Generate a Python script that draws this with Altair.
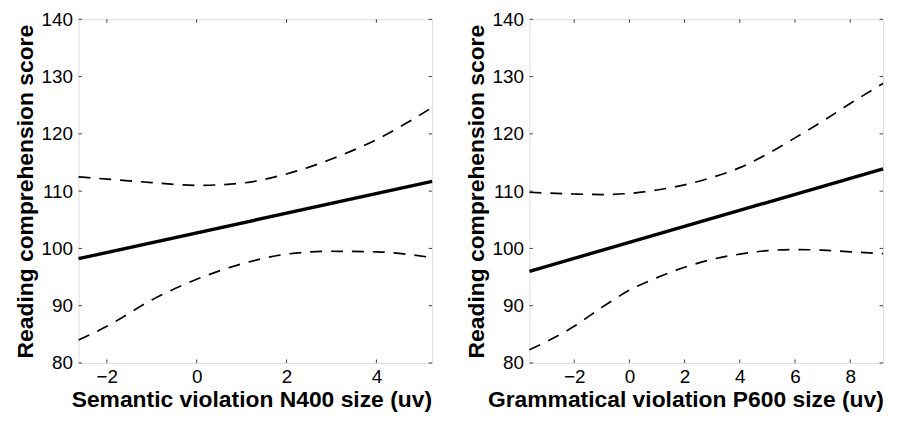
import altair as alt
import pandas as pd

# ---------------- data ----------------
Y_DOMAIN = [80, 140]
Y_TICKS = [80, 90, 100, 110, 120, 130, 140]

# Left panel: Semantic violation N400
left_x_domain = [-2.63, 5.24]
left_x_ticks = [-2, 0, 2, 4]
left_ci_x = [-2.63, -2, -1, 0, 1, 2, 3, 4, 5.24]
left_upper = [112.5, 112.1, 111.5, 111.0, 111.4, 113.0, 115.6, 119.0, 124.6]
left_lower = [84.0, 86.4, 91.0, 94.6, 97.3, 99.0, 99.5, 99.4, 98.4]
left_fit_x = [-2.63, 5.24]
left_fit_y = [98.2, 111.7]

# Right panel: Grammatical violation P600
right_x_domain = [-3.62, 9.19]
right_x_ticks = [-2, 0, 2, 4, 6, 8]
right_ci_x = [-3.62, -2, -1, 0, 1, 2, 3, 4, 5, 6, 7, 8, 9.19]
right_upper = [109.8, 109.5, 109.4, 109.6, 110.2, 111.1, 112.4, 114.1, 116.5, 119.3, 122.2, 125.3, 128.8]
right_lower = [82.3, 86.4, 89.7, 92.7, 94.9, 96.7, 98.1, 99.0, 99.6, 99.8, 99.7, 99.4, 99.1]
right_fit_x = [-3.62, 9.19]
right_fit_y = [96.0, 113.9]

Y_TITLE = "Reading comprehension score"
LEFT_X_TITLE = "Semantic violation N400 size (uv)"
RIGHT_X_TITLE = "Grammatical violation P600 size (uv)"

# ---------------- styling ----------------
W, H = 356, 346
FONT = "Liberation Sans"
FRAME = "#444444"
TICK_LEN = 3.5


def panel(ci_x, upper, lower, fit_x, fit_y, x_domain, x_ticks, x_title, title_x):
    n = len(ci_x)
    ci = pd.DataFrame({
        "x": list(ci_x) * 2,
        "y": list(upper) + list(lower),
        "band": ["upper"] * n + ["lower"] * n,
    })
    fit = pd.DataFrame({"x": fit_x, "y": fit_y})
    xt = pd.DataFrame({"t": x_ticks})
    yt = pd.DataFrame({"t": Y_TICKS})

    xs = alt.Scale(domain=x_domain, nice=False, zero=False)
    ys = alt.Scale(domain=Y_DOMAIN, nice=False, zero=False)
    x_axis = alt.Axis(values=x_ticks, title=x_title, format="d", tickSize=0,
                      domain=False, grid=False, labelFlush=False,
                      labelFontSize=19, labelColor="black", labelPadding=5,
                      titleFontSize=23, titleFontWeight="bold", titleColor="black",
                      titlePadding=2, titleX=title_x, titleAlign="center",
                      labelFont=FONT, titleFont=FONT)
    y_axis = alt.Axis(values=Y_TICKS, title=Y_TITLE, format="d", tickSize=0,
                      domain=False, grid=False, labelFlush=False,
                      labelFontSize=19, labelColor="black", labelPadding=6,
                      titleFontSize=23, titleFontWeight="bold", titleColor="black",
                      titlePadding=4, labelFont=FONT, titleFont=FONT)

    X = lambda f: alt.X(f, scale=xs, axis=x_axis)
    Y = lambda f: alt.Y(f, scale=ys, axis=y_axis)

    ci_lines = alt.Chart(ci).mark_line(
        color="black", strokeWidth=1.7, strokeDash=[12, 9], interpolate="monotone"
    ).encode(x=X("x:Q"), y=Y("y:Q"), detail="band:N")

    fit_line = alt.Chart(fit).mark_line(color="black", strokeWidth=3.4).encode(
        x=X("x:Q"), y=Y("y:Q"))

    tick_style = dict(color=FRAME, strokeWidth=1)
    bottom = alt.Chart(xt).mark_rule(**tick_style).encode(
        x=X("t:Q"), y=alt.value(H), y2=alt.value(H - TICK_LEN))
    top = alt.Chart(xt).mark_rule(**tick_style).encode(
        x=X("t:Q"), y=alt.value(0), y2=alt.value(TICK_LEN))
    left = alt.Chart(yt).mark_rule(**tick_style).encode(
        y=Y("t:Q"), x=alt.value(0), x2=alt.value(TICK_LEN))
    right = alt.Chart(yt).mark_rule(**tick_style).encode(
        y=Y("t:Q"), x=alt.value(W), x2=alt.value(W - TICK_LEN))

    return alt.layer(ci_lines, fit_line, bottom, top, left, right).properties(
        width=W, height=H)


left_panel = panel(left_ci_x, left_upper, left_lower, left_fit_x, left_fit_y,
                   left_x_domain, left_x_ticks, LEFT_X_TITLE, 174)
right_panel = panel(right_ci_x, right_upper, right_lower, right_fit_x, right_fit_y,
                    right_x_domain, right_x_ticks, RIGHT_X_TITLE, 157)

chart = alt.hconcat(left_panel, right_panel, spacing=98, bounds="flush").properties(
    padding={"left": 5, "top": 0, "right": 0, "bottom": 0}
).configure_view(
    stroke=FRAME, strokeWidth=1.2
).configure(background="white")

chart.save("out.html", embed_options={"renderer": "svg", "actions": False})
